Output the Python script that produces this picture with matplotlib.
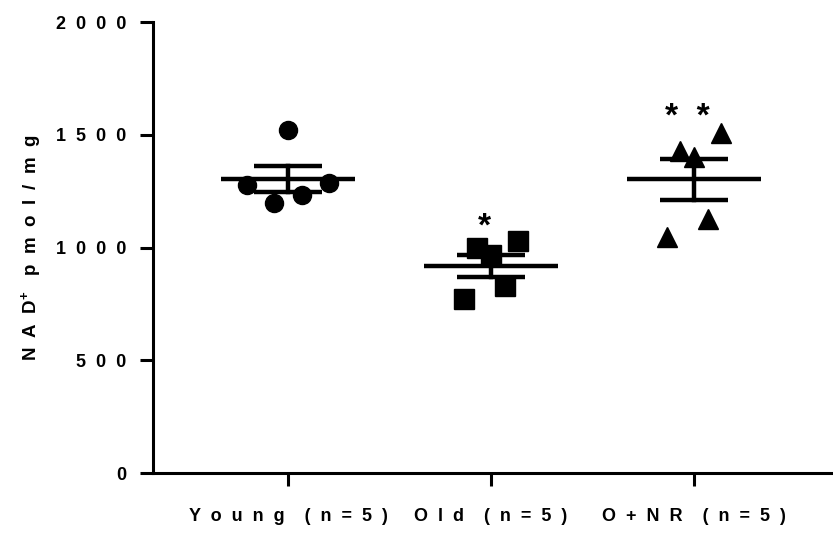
import numpy as np
import matplotlib
matplotlib.use("Agg")
import matplotlib.pyplot as plt

plt.rcParams['font.family'] = ['Liberation Sans', 'DejaVu Sans']
plt.rcParams['font.weight'] = 'bold'
plt.rcParams['mathtext.fontset'] = 'custom'
plt.rcParams['mathtext.bf'] = 'Liberation Sans:bold'
plt.rcParams['mathtext.rm'] = 'Liberation Sans:bold'

# Data (NAD+ pmol/mg)
groups = ["Y  o  u  n  g    (  n  =  5  )", "O  l  d    (  n  =  5  )",
          "O  +  N  R    (  n  =  5  )"]
young = [1277, 1196, 1521, 1233, 1287]
old = [770, 996, 967, 829, 1029]
o_nr = [1047, 1426, 1401, 1127, 1508]
markers = ["o", "s", "^"]
sig_marks = ["", "*", "*  *"]
sig_heights = [0, 1055, 1538]

yticks = [0, 500, 1000, 1500, 2000]
ytick_labels = ["0", "5  0  0", "1  0  0  0", "1  5  0  0", "2  0  0  0"]

# horizontal jitter of the points inside a group
jitter = [-0.2, -0.067, 0.0, 0.067, 0.2]
jitter_small = [-0.133, -0.067, 0.0, 0.067, 0.133]

fig = plt.figure(figsize=(8.33, 5.39), dpi=100)
ax = fig.add_axes([0.1837, 0.1224, 0.8163, 0.8367])

for i, (vals, m) in enumerate(zip([young, old, o_nr], markers)):
    vals = np.array(vals, dtype=float)
    offs = jitter if i == 0 else jitter_small
    size = 13 if m == "o" else 14
    ax.plot(i + np.array(offs), vals, linestyle="none", marker=m,
            markersize=size, color="black", zorder=3)
    mean = vals.mean()
    sem = vals.std(ddof=1) / np.sqrt(len(vals))
    ax.plot([i - 0.33, i + 0.33], [mean, mean], color="black", lw=3.2,
            solid_capstyle="butt", zorder=2)
    ax.plot([i - 0.167, i + 0.167], [mean + sem] * 2, color="black", lw=3.2,
            solid_capstyle="butt", zorder=2)
    ax.plot([i - 0.167, i + 0.167], [mean - sem] * 2, color="black", lw=3.2,
            solid_capstyle="butt", zorder=2)
    ax.plot([i, i], [mean - sem, mean + sem], color="black", lw=3.2, zorder=2)
    if sig_marks[i]:
        ax.text(i - 0.03, sig_heights[i], sig_marks[i], ha="center", va="baseline",
                fontsize=24, fontweight="bold")

ax.set_xlim(-0.665, 2.685)
ax.set_ylim(0, 2000)
ax.set_yticks(yticks)
ax.set_yticklabels(ytick_labels)
ax.set_xticks([0, 1, 2])
ax.set_xticklabels(groups)
ax.tick_params(axis="both", width=2.2, length=9.5, labelsize=13)
ax.tick_params(axis="y", pad=10)
ax.tick_params(axis="x", pad=16, labelsize=13)

for s in ["top", "right"]:
    ax.spines[s].set_visible(False)
for s in ["left", "bottom"]:
    ax.spines[s].set_linewidth(2.2)
ax.spines["left"].set_bounds(0, 2000)

ax.set_ylabel(r"N  A  D$^{\mathbf{+}}$   p  m  o  l  /  m  g", fontsize=13.5,
              fontweight="bold", labelpad=8)

fig.savefig("out.png", dpi=100)
